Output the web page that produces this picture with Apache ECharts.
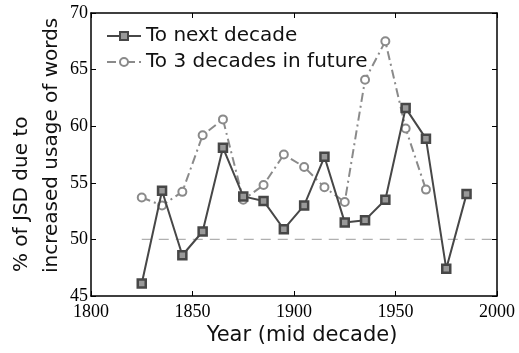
<!DOCTYPE html>
<html>
<head>
<meta charset="utf-8">
<script src="https://cdn.jsdelivr.net/npm/echarts@6/dist/echarts.min.js"></script>
<style>
  html, body { margin: 0; padding: 0; background: #fff; }
  #chart { width: 519px; height: 353px; }
</style>
</head>
<body>
<div id="chart"></div>
<script>
// mid decade years
const years = [1825, 1835, 1845, 1855, 1865, 1875, 1885, 1895, 1905, 1915, 1925, 1935, 1945, 1955, 1965, 1975, 1985]
const nextDecade = [46.1, 54.3, 48.6, 50.7, 58.1, 53.8, 53.4, 50.9, 53.0, 57.3, 51.5, 51.7, 53.5, 61.6, 58.9, 47.4, 54.0]
const threeDecades = [53.7, 53.0, 54.2, 59.2, 60.6, 53.5, 54.8, 57.5, 56.4, 54.6, 53.3, 64.1, 67.5, 59.8, 54.4]
const refYears = [1825, 2000]
const refValue = [50, 50]

const sansFont = 'DejaVu Sans'
const serifFont = 'Liberation Serif'

const pairs = (xs, ys) => ys.map((v, i) => [xs[i], v])

const chart = echarts.init(document.getElementById('chart'))

const option = {
  animation: false,
  backgroundColor: '#fff',
  grid: { left: 91, right: 22, top: 13, bottom: 57 },
  legend: {
    data: ['To next decade', 'To 3 decades in future'],
    orient: 'vertical',
    left: 101,
    top: 21,
    itemWidth: 34,
    itemHeight: 10,
    itemGap: 6,
    textStyle: { fontFamily: sansFont, fontSize: 20, color: '#111' }
  },
  graphic: [
    {
      type: 'text',
      x: 302,
      y: 336,
      style: {
        text: 'Year (mid decade)',
        font: '21px "DejaVu Sans"',
        fill: '#111',
        textAlign: 'center',
        textVerticalAlign: 'middle'
      }
    },
    {
      type: 'text',
      x: 22,
      y: 272,
      rotation: Math.PI / 2,
      style: {
        text: '% of JSD due to',
        font: '20px "DejaVu Sans"',
        fill: '#111',
        textAlign: 'left',
        textVerticalAlign: 'middle'
      }
    },
    {
      type: 'text',
      x: 52,
      y: 273,
      rotation: Math.PI / 2,
      style: {
        text: 'increased usage of words',
        font: '20px "DejaVu Sans"',
        fill: '#111',
        textAlign: 'left',
        textVerticalAlign: 'middle'
      }
    }
  ],
  xAxis: [
    {
      type: 'value',
      min: 1800,
      max: 2000,
      interval: 50,
      axisLine: { show: true, lineStyle: { color: '#000', width: 1.5 } },
      axisTick: { show: true, inside: true, length: 5, lineStyle: { color: '#000' } },
      axisLabel: { fontFamily: serifFont, fontSize: 18, color: '#000', margin: 7, formatter: v => String(v) },
      splitLine: { show: false }
    },
    {
      type: 'value',
      position: 'top',
      min: 1800,
      max: 2000,
      interval: 50,
      axisLine: { show: true, lineStyle: { color: '#000', width: 1.5 } },
      axisTick: { show: true, inside: true, length: 5, lineStyle: { color: '#000' } },
      axisLabel: { show: false },
      splitLine: { show: false }
    }
  ],
  yAxis: [
    {
      type: 'value',
      min: 45,
      max: 70,
      interval: 5,
      axisLine: { show: true, lineStyle: { color: '#000', width: 1.5 } },
      axisTick: { show: true, inside: true, length: 5, lineStyle: { color: '#000' } },
      axisLabel: { fontFamily: serifFont, fontSize: 18, color: '#000', margin: 3 },
      splitLine: { show: false }
    },
    {
      type: 'value',
      position: 'right',
      min: 45,
      max: 70,
      interval: 5,
      axisLine: { show: true, lineStyle: { color: '#000', width: 1.5 } },
      axisTick: { show: true, inside: true, length: 5, lineStyle: { color: '#000' } },
      axisLabel: { show: false },
      splitLine: { show: false }
    }
  ],
  series: [
    {
      name: 'reference',
      type: 'line',
      data: pairs(refYears, refValue),
      symbol: 'none',
      silent: true,
      lineStyle: { color: '#b0b0b0', width: 1.2, type: [10, 7] },
      z: 1
    },
    {
      name: 'To 3 decades in future',
      type: 'line',
      data: pairs(years, threeDecades),
      symbol: 'circle',
      symbolSize: 8,
      lineStyle: { color: '#8a8a8a', width: 2, type: [9, 4, 2, 4] },
      itemStyle: { color: '#fff', borderColor: '#8a8a8a', borderWidth: 2 },
      z: 2
    },
    {
      name: 'To next decade',
      type: 'line',
      data: pairs(years, nextDecade),
      symbol: 'rect',
      symbolSize: 8,
      lineStyle: { color: '#474747', width: 2 },
      itemStyle: { color: '#999', borderColor: '#474747', borderWidth: 2.5 },
      z: 3
    }
  ]
}
chart.setOption(option)
</script>
</body>
</html>
